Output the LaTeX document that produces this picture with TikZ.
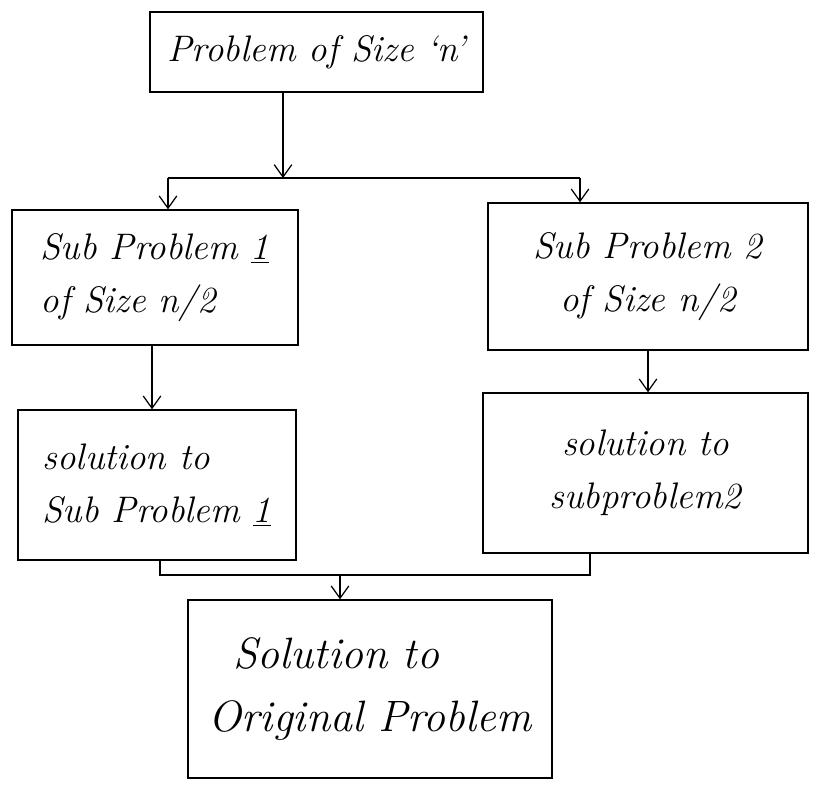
\documentclass[tikz,border=0pt]{standalone}
\usepackage{tikz}
\usetikzlibrary{arrows.meta}

\begin{document}
\begin{tikzpicture}[
    box/.style={draw,line width=0.8pt,inner sep=4pt,
      font=\fontsize{21}{30}\selectfont\itshape},
    link/.style={line width=0.7pt},
    tip/.style={link,-{Straight Barb[length=7pt,width=10pt]}}
  ]
  \useasboundingbox (0,0) rectangle (16.46,-15.92);
  % boxes
  \node[box,minimum width=6.66cm,minimum height=1.6cm] (prob) at (6.33,-1.04)
    {Problem of Size `n'};
  \node[box,align=left,minimum width=5.72cm,minimum height=2.7cm] (sub1) at (3.10,-5.55)
    {Sub Problem \underline{1}\\of Size n/2\hspace{1.2cm}};
  \node[box,align=center,minimum width=6.4cm,minimum height=2.94cm] (sub2) at (12.96,-5.53)
    {Sub Problem 2\\of Size n/2};
  \node[box,align=left,minimum width=5.56cm,minimum height=3cm] (sol1) at (3.14,-9.70)
    {solution to\hspace{1.3cm}\\Sub Problem \underline{1}};
  \node[box,align=center,minimum width=6.5cm,minimum height=3.2cm] (sol2) at (12.91,-9.46)
    {solution to\\subproblem2};
  \node[box,align=left,minimum width=7.28cm,minimum height=3.56cm,
    font=\fontsize{25}{36}\selectfont\itshape] (orig) at (7.40,-13.78)
    {\hspace{0.5cm}Solution to\\Original Problem};
  % split
  \coordinate (split) at (5.66,-3.56);
  \coordinate (splitL) at (3.36,-3.56);
  \coordinate (splitR) at (11.60,-3.56);
  \draw[tip] (prob.south -| split) -- (split);
  \draw[link] (splitL) -- (splitR);
  \draw[tip] (splitL) -- (splitL |- sub1.north);
  \draw[tip] (splitR) -- (splitR |- sub2.north);
  % down to solutions
  \draw[tip] (sub1.south -| 3.04,0) -- (sol1.north -| 3.04,0);
  \draw[tip] (sub2.south) -- (sol2.north -| sub2.south);
  % merge
  \coordinate (mergeL) at (3.20,-11.50);
  \coordinate (mergeR) at (11.80,-11.50);
  \coordinate (merge) at (6.80,-11.50);
  \draw[link] (sol1.south -| mergeL) -- (mergeL) -- (mergeR) -- (sol2.south -| mergeR);
  \draw[tip] (merge) -- (merge |- orig.north);
\end{tikzpicture}
\end{document}
